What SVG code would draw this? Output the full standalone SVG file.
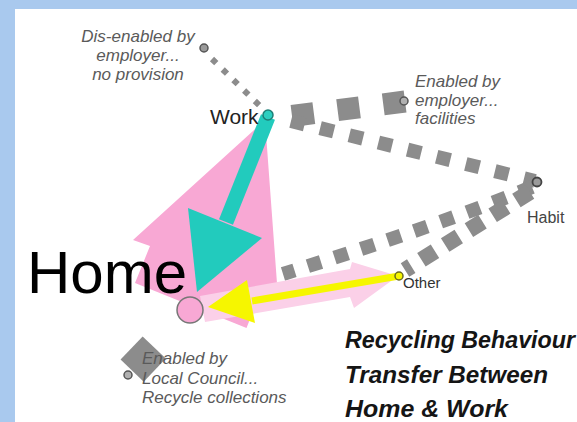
<svg xmlns="http://www.w3.org/2000/svg" width="577" height="422" viewBox="0 0 577 422">
<style>
.lbl{font-family:"Liberation Sans",Arial,sans-serif;font-style:italic;font-size:17px;fill:#5a5a5a}
.dash{fill:none;stroke:#8c8c8c;stroke-linecap:butt}
.ring{fill:#9a9a9a;stroke:#555;stroke-width:1.5}
.title{font-family:"Liberation Sans",Arial,sans-serif;font-style:italic;font-weight:bold;font-size:23px;fill:#151515}
</style>
<rect x="0" y="0" width="577" height="422" fill="#a9c9ee"/>
<rect x="15" y="9" width="562" height="413" fill="#ffffff"/>
<g id="connectors">
  <line class="dash" x1="212" y1="59" x2="264" y2="110" stroke-width="6" stroke-dasharray="6 9"/>
  <line class="dash" x1="292" y1="116" x2="406" y2="101.4" stroke-width="22" stroke-dasharray="22 24"/>
  <line class="dash" x1="291" y1="121" x2="535" y2="181" stroke-width="14" stroke-dasharray="14 16"/>
  <path class="dash" d="M532,187 Q440,225 283,274" stroke-width="14" stroke-dasharray="14 14"/>
  <line class="dash" x1="530" y1="192" x2="405" y2="270" stroke-width="16" stroke-dasharray="16 12"/>
  <line class="dash" x1="128" y1="375" x2="190" y2="310" stroke-width="32" stroke-dasharray="32 200" stroke-dashoffset="-6"/>
  <polygon id="pink-home-work" points="265,120 278,297 261,291 246.5,328 135,283 150,246 133,240" fill="#f8a8d4"/>
  <polygon id="pink-home-other" points="200,296 350,269 352,262 398,276 354,308 350,297 205,322" fill="#fbd0e8"/>
  <g id="teal-work-home" fill="#22cbbd">
    <line x1="268" y1="117" x2="226" y2="222" stroke="#22cbbd" stroke-width="15"/>
    <polygon points="188,208 262,238 197,292"/>
  </g>
  <g id="yellow-other-home" fill="#f6f600">
    <line x1="399" y1="276" x2="252" y2="301" stroke="#f6f600" stroke-width="7"/>
    <polygon points="247,280 255,323 208,307"/>
  </g>
</g>
<g id="node-disenabled">
  <circle class="ring" cx="204" cy="48" r="4"/>
  <text class="lbl" text-anchor="middle" x="138" y="42">Dis-enabled by</text>
  <text class="lbl" text-anchor="middle" x="138" y="61">employer...</text>
  <text class="lbl" text-anchor="middle" x="138" y="80">no provision</text>
</g>
<g id="node-enabled-employer">
  <circle cx="404" cy="101" r="4" fill="#b0b0b0" stroke="#555" stroke-width="1.5"/>
  <text class="lbl" x="415" y="87">Enabled by</text>
  <text class="lbl" x="415" y="106">employer...</text>
  <text class="lbl" x="415" y="124">facilities</text>
</g>
<g id="node-council">
  <circle cx="128" cy="375" r="4" fill="#b0b0b0" stroke="#555" stroke-width="1.5"/>
  <text class="lbl" x="142" y="364">Enabled by</text>
  <text class="lbl" x="142" y="384">Local Council...</text>
  <text class="lbl" x="142" y="403">Recycle collections</text>
</g>
<g id="node-work">
  <text x="210" y="124" font-family="Liberation Sans, Arial, sans-serif" font-size="21" fill="#222">Work</text>
  <circle cx="268" cy="115" r="5" fill="#2ccfc0" stroke="#1d7f77" stroke-width="1.5"/>
</g>
<g id="node-habit">
  <circle cx="537" cy="182" r="4.5" fill="#9a9a9a" stroke="#444" stroke-width="1.8"/>
  <text x="527" y="223" font-family="Liberation Sans, Arial, sans-serif" font-size="16" fill="#444">Habit</text>
</g>
<g id="node-other">
  <circle cx="399" cy="276" r="4" fill="#f6f600" stroke="#6a6a20" stroke-width="1.5"/>
  <text x="403" y="288" font-family="Liberation Sans, Arial, sans-serif" font-size="15" fill="#333">Other</text>
</g>
<g id="node-home">
  <text x="27" y="293" font-family="Liberation Sans, Arial, sans-serif" font-size="60" fill="#000">Home</text>
  <circle cx="190" cy="310" r="13" fill="#f8a8d4" stroke="#777" stroke-width="1.5"/>
</g>
<g id="title">
  <text class="title" x="345" y="348" textLength="230" lengthAdjust="spacingAndGlyphs">Recycling Behaviour</text>
  <text class="title" x="345" y="383" textLength="203" lengthAdjust="spacingAndGlyphs">Transfer Between</text>
  <text class="title" x="345" y="417" textLength="163" lengthAdjust="spacingAndGlyphs">Home &amp; Work</text>
</g>
</svg>
